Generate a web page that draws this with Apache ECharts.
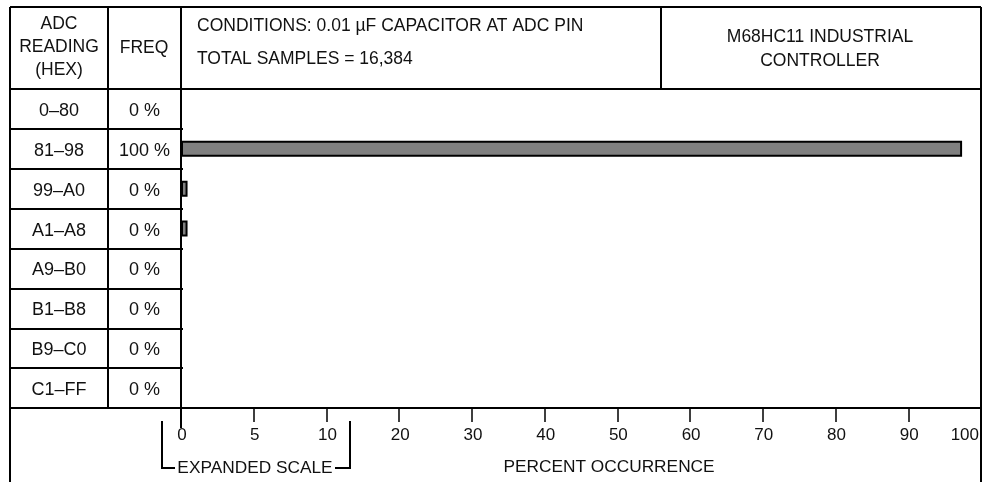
<!DOCTYPE html>
<html>
<head>
<meta charset="utf-8">
<script src="https://cdn.jsdelivr.net/npm/echarts@6/dist/echarts.min.js"></script>
<style>html,body{margin:0;padding:0;background:#fff;}#chart{width:985px;height:482px;}</style>
</head>
<body>
<div id="chart"></div>
<script>
// ---- data ----
const categories = ['0–80', '81–98', '99–A0', 'A1–A8', 'A9–B0', 'B1–B8', 'B9–C0', 'C1–FF'];
const freqLabels = ['0 %', '100 %', '0 %', '0 %', '0 %', '0 %', '0 %', '0 %'];
const percentValues = [0, 97.4, 0.45, 0.45, 0, 0, 0, 0];
const tickLabels = ['0', '5', '10', '20', '30', '40', '50', '60', '70', '80', '90', '100'];
const headerCol1 = ['ADC', 'READING', '(HEX)'];
const headerCol2 = 'FREQ';
const conditions = ['CONDITIONS: 0.01 µF CAPACITOR AT ADC PIN', 'TOTAL SAMPLES = 16,384'];
const titleLines = ['M68HC11 INDUSTRIAL', 'CONTROLLER'];
const expandedText = 'EXPANDED SCALE';
const axisTitle = 'PERCENT OCCURRENCE';

// expanded scale: 0..10 takes double width
function toScale(v) { return v <= 10 ? v * 2 : v + 10; }

const FONT = '"Liberation Sans", Arial, sans-serif';
const LW = 2;

const L = 10, R = 981, T = 7, HB = 89, AX = 408, C1 = 108, C2 = 181, C3 = 661;

function line(x1, y1, x2, y2, w) {
  return { type: 'line', silent: true, z: 10, shape: { x1, y1, x2, y2 }, style: { stroke: '#000', lineWidth: w || LW } };
}
function text(t, x, y, align, size) {
  return { type: 'text', silent: true, z: 10, x, y, style: { text: t, fill: '#111', font: size + 'px ' + FONT, textAlign: align, textVerticalAlign: 'middle' } };
}

const graphics = [
  line(L, T, R, T),
  line(L, T, L, 482),
  line(R, T, R, 482),
  line(L, HB, R, HB),
  line(C1, T, C1, AX),
  line(C2, T, C2, HB),
  line(C2, AX, C2, 428),
  line(C3, T, C3, HB),
  text(headerCol1[0], 59, 24, 'center', 17.5),
  text(headerCol1[1], 59, 47, 'center', 17.5),
  text(headerCol1[2], 59, 70, 'center', 17.5),
  text(headerCol2, 144, 48, 'center', 17.5),
  text(conditions[0], 197, 26, 'left', 17.5),
  text(conditions[1], 197, 59, 'left', 17.5),
  text(titleLines[0], 820, 37, 'center', 17.5),
  text(titleLines[1], 820, 61, 'center', 17.5),
  { type: 'polyline', silent: true, z: 10, shape: { points: [[162, 421], [162, 468], [175, 468]] }, style: { stroke: '#000', lineWidth: LW, fill: null } },
  { type: 'polyline', silent: true, z: 10, shape: { points: [[335, 468], [350, 468], [350, 421]] }, style: { stroke: '#000', lineWidth: LW, fill: null } },
  text(expandedText, 255, 468, 'center', 17.3),
  text(axisTitle, 609, 467, 'center', 17.3)
];

const chart = echarts.init(document.getElementById('chart'), null, { renderer: 'canvas' });
chart.setOption({
  animation: false,
  backgroundColor: '#fff',
  grid: [
    { left: C2, right: 985 - R, top: HB, bottom: 482 - AX },
    { left: L, width: C2 + 2 - L, top: HB, bottom: 482 - AX }
  ],
  xAxis: [
    {
      gridIndex: 0, type: 'value', min: 0, max: 110, interval: 10,
      axisLine: { show: true, lineStyle: { color: '#000', width: LW } },
      axisTick: { show: true, length: 14, lineStyle: { color: '#000', width: 1.5 } },
      splitLine: { show: false },
      axisLabel: {
        margin: 19, color: '#111', fontFamily: FONT, fontSize: 17,
        alignMaxLabel: 'right', padding: [0, 2, 0, 4],
        formatter: (v) => tickLabels[Math.round(v / 10)]
      }
    },
    {
      gridIndex: 1, type: 'value', min: 0, max: 1,
      axisLine: { show: true, lineStyle: { color: '#000', width: LW } },
      axisTick: { show: false }, axisLabel: { show: false }, splitLine: { show: false }
    }
  ],
  yAxis: [
    {
      gridIndex: 0, type: 'category', data: categories, inverse: true,
      axisLine: { show: true, lineStyle: { color: '#000', width: LW } },
      axisTick: { show: false }, splitLine: { show: false },
      axisLabel: {
        margin: 0,
        formatter: (v, i) => '{a|' + v + '}{b|' + freqLabels[i] + '}',
        rich: {
          a: { width: C1 - L, align: 'center', fontFamily: FONT, fontSize: 18, color: '#111', padding: [4, 0, 0, 0] },
          b: { width: C2 - C1, align: 'center', fontFamily: FONT, fontSize: 18, color: '#111', padding: [4, 0, 0, 0] }
        }
      }
    },
    {
      gridIndex: 1, type: 'category', data: categories, inverse: true,
      axisLine: { show: false }, axisTick: { show: false }, axisLabel: { show: false },
      splitLine: { show: true, lineStyle: { color: '#000', width: LW } }
    }
  ],
  series: [
    {
      type: 'bar', xAxisIndex: 0, yAxisIndex: 0,
      data: percentValues.map(toScale),
      barWidth: 16,
      itemStyle: { color: '#808080', borderColor: '#000', borderWidth: 2 }
    }
  ],
  graphic: graphics
});
</script>
</body>
</html>
